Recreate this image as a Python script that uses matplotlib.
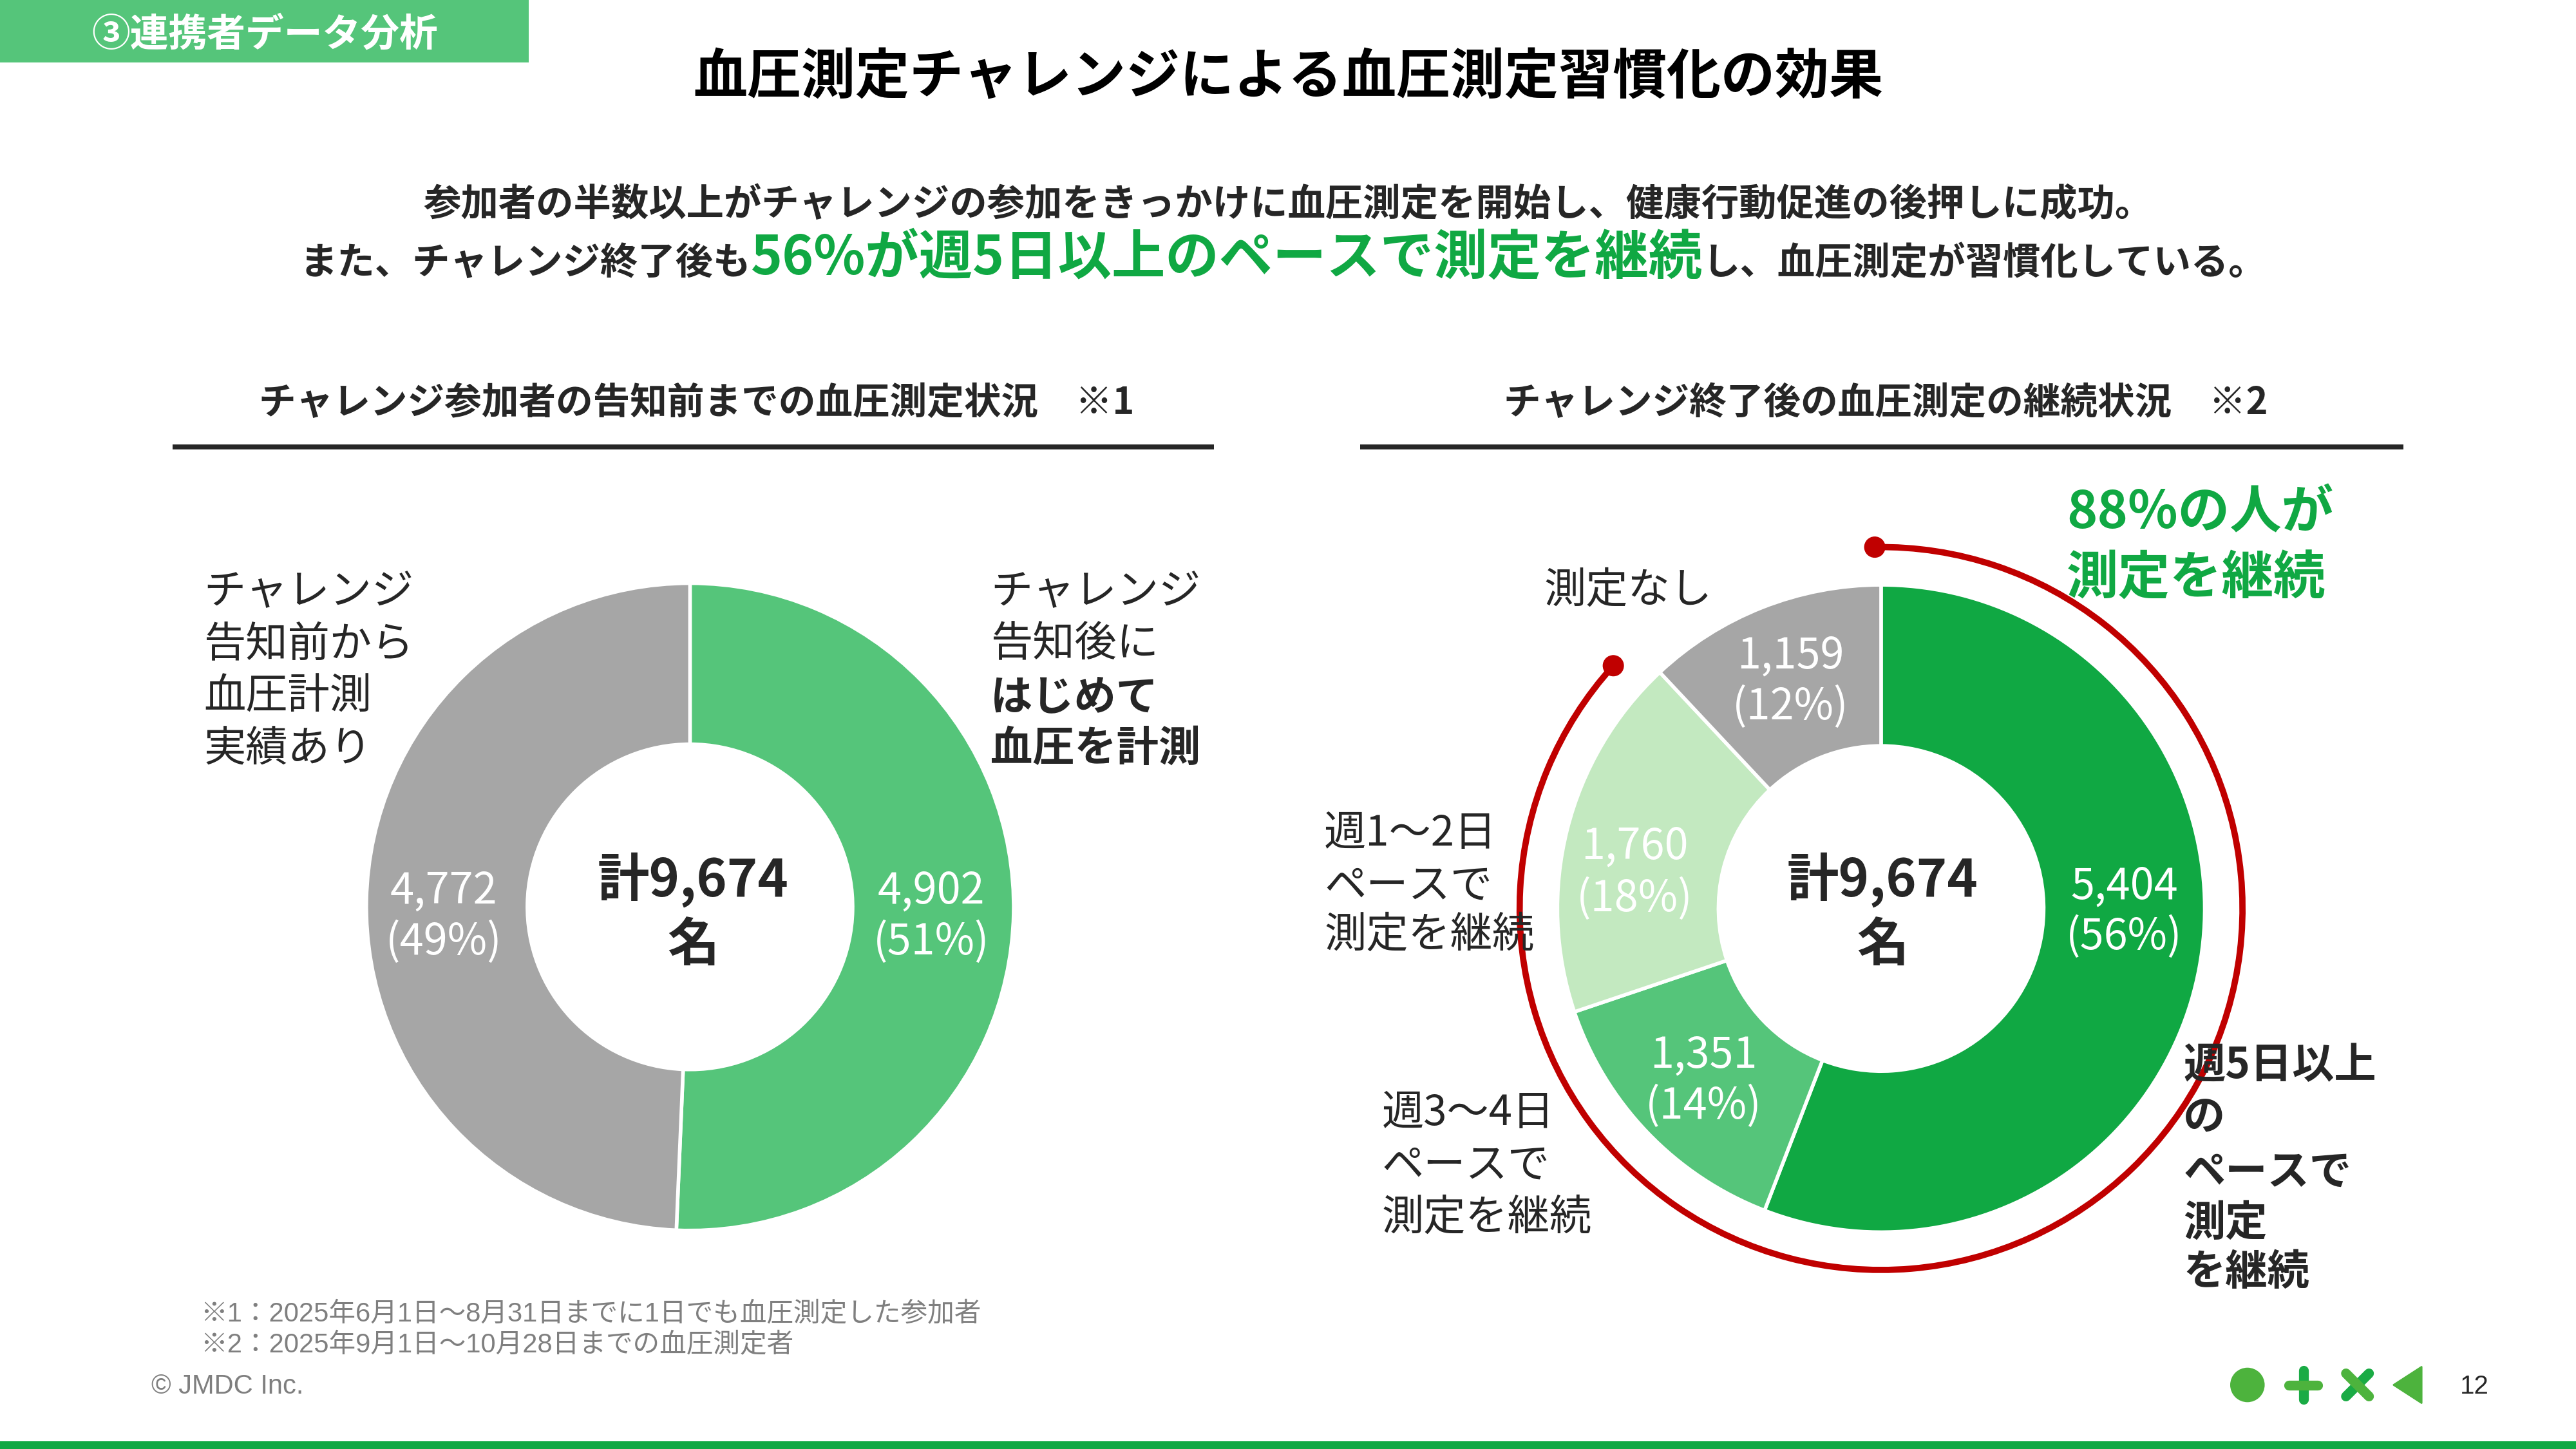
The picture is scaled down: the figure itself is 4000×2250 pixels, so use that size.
import math
import matplotlib
matplotlib.use('Agg')
import matplotlib.pyplot as plt
from matplotlib.patches import Rectangle, Arc, Circle, Polygon

plt.rcParams['font.family'] = ['Noto Sans CJK JP', 'DejaVu Sans']

# ---------------- data ----------------
left_values = [4902, 4772]
left_colors = ['#55c57a', '#a6a6a6']
left_cat_lines = [['チャレンジ', '告知後に', 'はじめて', '血圧を計測'],
                  ['チャレンジ', '告知前から', '血圧計測', '実績あり']]
right_values = [5404, 1351, 1760, 1159]
right_colors = ['#10a843', '#55c57a', '#c3e9c0', '#a6a6a6']
right_cat_lines = [['週5日以上', 'の', 'ペースで', '測定', 'を継続'],
                   ['週3〜4日', 'ペースで', '測定を継続'],
                   ['週1〜2日', 'ペースで', '測定を継続'],
                   ['測定なし']]
continued_lines = ['88%の人が', '測定を継続']
header_text = '③連携者データ分析'
title_text = '血圧測定チャレンジによる血圧測定習慣化の効果'
sub_line1 = '参加者の半数以上がチャレンジの参加をきっかけに血圧測定を開始し、健康行動促進の後押しに成功。'
sub_line2_parts = ['また、チャレンジ終了後も', '56%が週5日以上のペースで測定を継続', 'し、血圧測定が習慣化している。']
left_heading = 'チャレンジ参加者の告知前までの血圧測定状況　※1'
right_heading = 'チャレンジ終了後の血圧測定の継続状況　※2'
footnotes = ['※1：2025年6月1日～8月31日までに1日でも血圧測定した参加者',
             '※2：2025年9月1日～10月28日までの血圧測定者']
copyright_text = '© JMDC Inc.'
page_no = '12'

# ---------------- style ----------------
DARK = '#262626'
GREEN = '#10a843'
MGREEN = '#55c57a'
RED = '#c00000'
GRAY = '#7f7f7f'

W, H = 1568, 882
def Y(y):
    return H - y

def TY(y):
    # centred CJK text sits slightly high; nudge down
    return H - (y + 2.5)

fig = plt.figure(figsize=(40, 22.5), dpi=100)
ax = fig.add_axes([0, 0, 1, 1])

def put_lines(x, ys, texts, bolds, ha='left', color=DARK, size=47):
    for yy, t, b in zip(ys, texts, bolds):
        ax.text(x, TY(yy), t, ha=ha, va='center', color=color, fontsize=size,
                fontweight='bold' if b else 'normal')

# ---------------- donuts ----------------
def donut(values, colors, cx, cy, r=197, w=98):
    wedges, _ = ax.pie(values, colors=colors, startangle=90, counterclock=False,
                       radius=r, center=(cx, Y(cy)),
                       wedgeprops=dict(width=w, edgecolor='white', linewidth=4))
    return wedges

donut(left_values, left_colors, 420, 552)
donut(right_values, right_colors, 1145, 553)

def value_label(v, total, x, y1, y2, color='white'):
    ax.text(x, TY(y1), f'{v:,}', ha='center', va='center', color=color, fontsize=48)
    ax.text(x, TY(y2), f'({round(v / total * 100)}%)', ha='center', va='center', color=color, fontsize=48)

lt = sum(left_values)
rt = sum(right_values)
value_label(left_values[0], lt, 567, 540, 571)
value_label(left_values[1], lt, 270, 540, 571)
right_label_pos = [(1293, 537, 568), (1037, 640, 671), (995, 513, 545), (1090, 397, 428)]
for v, (x, y1, y2) in zip(right_values, right_label_pos):
    value_label(v, rt, x, y1, y2)

for cx, tot in [(422, lt), (1146, rt)]:
    ax.text(cx, TY(533), f'計{tot:,}', ha='center', va='center', color=DARK, fontsize=58, fontweight='bold')
    ax.text(cx, TY(573), '名', ha='center', va='center', color=DARK, fontsize=58, fontweight='bold')

# category labels
put_lines(603, [358, 390, 422, 453], left_cat_lines[0], [False, False, True, True])
put_lines(124, [358, 390, 422, 454], left_cat_lines[1], [False] * 4)
put_lines(1329, [646, 678, 711, 742, 772], right_cat_lines[0], [True] * 5)
put_lines(841, [675, 707, 739], right_cat_lines[1], [False] * 3)
put_lines(806, [505, 537, 567], right_cat_lines[2], [False] * 3)
put_lines(940, [357], right_cat_lines[3], [False])

# red arc
r_arc = 220
cxr, cyr = 1145, Y(553)
ax.add_patch(Arc((cxr, cyr), 2 * r_arc, 2 * r_arc, theta1=137.8, theta2=451,
                 color=RED, lw=7))
for ang in (137.8, 451):
    a = math.radians(ang)
    ax.add_patch(Circle((cxr + r_arc * math.cos(a), cyr + r_arc * math.sin(a)), 6.2, color=RED))

put_lines(1258, [310, 350], continued_lines, [True, True], color=GREEN, size=58)

# ---------------- header / titles ----------------
ax.add_patch(Rectangle((0, Y(38)), 322, 38, color=MGREEN, lw=0))
ax.text(161, TY(19), header_text, ha='center', va='center', color='white', fontsize=43, fontweight='bold')
ax.text(784, TY(45), title_text, ha='center', va='center', color='black', fontsize=60.5, fontweight='bold')
ax.text(784, TY(122), sub_line1, ha='center', va='center', color=DARK, fontsize=42, fontweight='bold')

# mixed second line
parts = []
specs = [(DARK, 42), (GREEN, 60), (DARK, 42)]
for t, (c, s) in zip(sub_line2_parts, specs):
    parts.append(ax.text(0, Y(167), t, ha='left', va='baseline', color=c, fontsize=s, fontweight='bold'))

ax.text(424, TY(243), left_heading, ha='center', va='center', color=DARK, fontsize=41.5, fontweight='bold')
ax.text(1148, TY(243), right_heading, ha='center', va='center', color=DARK, fontsize=41.5, fontweight='bold')
ax.plot([105, 739], [Y(272), Y(272)], color=DARK, lw=5.5, solid_capstyle='butt')
ax.plot([828, 1463], [Y(272), Y(272)], color=DARK, lw=5.5, solid_capstyle='butt')

# ---------------- footer ----------------
foot_font = ['Liberation Sans', 'Noto Sans CJK JP']
ax.text(122, Y(800), footnotes[0], ha='left', va='center', color=GRAY, fontsize=30, family=foot_font)
ax.text(122, Y(819), footnotes[1], ha='left', va='center', color=GRAY, fontsize=30, family=foot_font)
ax.text(92, Y(844), copyright_text, ha='left', va='center', color=GRAY, fontsize=30, family=foot_font)
ax.text(1506, Y(844), page_no, ha='center', va='center', color=DARK, fontsize=29, family=foot_font)

IC1, IC2 = '#4db33d', '#1aab45'
ax.add_patch(Circle((1368, Y(843)), 10.5, color=IC1, lw=0))
ax.plot([1402, 1402], [Y(834), Y(852)], color=IC2, lw=11, solid_capstyle='round')
ax.plot([1393, 1411], [Y(843), Y(843)], color=IC1, lw=11, solid_capstyle='round')
ax.plot([1428, 1442], [Y(850), Y(836)], color=IC2, lw=11, solid_capstyle='round')
ax.plot([1428, 1442], [Y(836), Y(850)], color=IC1, lw=11, solid_capstyle='round')
ax.add_patch(Polygon([(1457, Y(843)), (1474, Y(832)), (1474, Y(854))], closed=True,
                     facecolor=IC1, edgecolor=IC1, lw=2, joinstyle='round'))
ax.add_patch(Rectangle((0, 0), W, 4.7, color=GREEN, lw=0))

ax.set_xlim(0, W)
ax.set_ylim(0, H)
ax.set_aspect('auto')
ax.axis('off')

# position mixed line
fig.canvas.draw()
rend = fig.canvas.get_renderer()
px_per_unit = 4000 / W
widths = [p.get_window_extent(rend).width / px_per_unit for p in parts]
x = 781 - sum(widths) / 2
for p, w in zip(parts, widths):
    p.set_x(x)
    x += w

fig.savefig('out.png', dpi=100, facecolor='white')
